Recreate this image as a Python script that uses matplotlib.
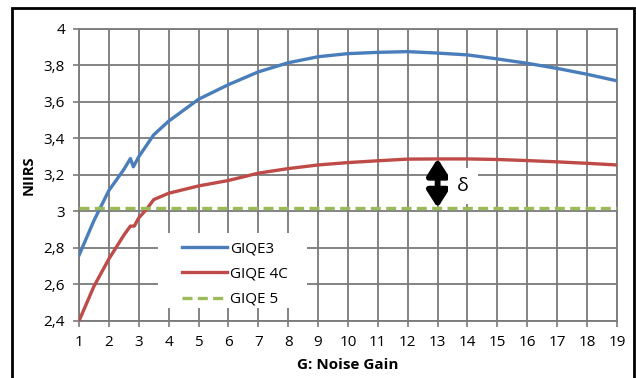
import matplotlib
matplotlib.use("Agg")
import matplotlib.pyplot as plt
from matplotlib.patches import Rectangle
from matplotlib.ticker import FuncFormatter, MultipleLocator

plt.rcParams['font.family'] = ['Open Sans', 'DejaVu Sans']

# GIQE3 curve (has a small kink near G=2.8)
g3_x = [1, 1.5, 2, 2.5, 2.72, 2.82, 3, 3.5, 4, 5, 6, 7, 8, 9, 10, 11, 12, 13, 14, 15, 16, 17, 18, 19]
g3_y = [2.76, 2.95, 3.115, 3.23, 3.29, 3.245, 3.30, 3.42, 3.495, 3.615, 3.695, 3.765, 3.815, 3.848, 3.865,
        3.872, 3.876, 3.868, 3.858, 3.836, 3.812, 3.784, 3.752, 3.716]

# GIQE 4C curve
g4_x = [1, 1.5, 2, 2.5, 2.72, 2.85, 3, 3.25, 3.5, 4, 5, 6, 7, 8, 9, 10, 11, 12, 13, 14, 15, 16, 17, 18, 19]
g4_y = [2.40, 2.59, 2.74, 2.87, 2.92, 2.92, 2.965, 3.01, 3.065, 3.10, 3.14, 3.17, 3.21, 3.235, 3.255,
        3.268, 3.278, 3.287, 3.288, 3.288, 3.285, 3.279, 3.272, 3.264, 3.255]

# GIQE 5 constant level
g5_x = [1, 19]
g5_y = [3.02, 3.02]

arrow_x = 13
delta_label = "δ"

fig = plt.figure(figsize=(6.36, 3.78), dpi=100)
ax = fig.add_axes([0.1242, 0.1508, 0.8458, 0.7725])

grid_col = "#7a7a7a"
ax.plot(g3_x, g3_y, color="#4a7ebb", lw=2.4, label="GIQE3", zorder=3)
ax.plot(g4_x, g4_y, color="#be4b48", lw=2.4, label="GIQE 4C", zorder=3)
ax.plot(g5_x, g5_y, color="#9bbb59", lw=2.4, ls=(0, (3, 1.6)), label="GIQE 5", zorder=3)

ax.set_xlim(1, 19)
ax.set_ylim(2.4, 4)
ax.xaxis.set_major_locator(MultipleLocator(1))
ax.yaxis.set_major_locator(MultipleLocator(0.2))
ax.yaxis.set_major_formatter(FuncFormatter(lambda v, p: ("%.1f" % v).rstrip("0").rstrip(".").replace(".", ",")))
ax.grid(True, color=grid_col, lw=1.3)
ax.set_axisbelow(True)
for s in ax.spines.values():
    s.set_color(grid_col)
    s.set_linewidth(1.3)
ax.tick_params(axis="both", direction="out", length=4, width=1.2, color=grid_col, labelsize=11, pad=6)

ax.set_ylabel("NIIRS", fontsize=10.5, fontweight="bold", labelpad=6)
ax.set_xlabel("G: Noise Gain", fontsize=11, fontweight="bold", labelpad=6)

# double arrow between GIQE 4C and GIQE 5 at G=13
ax.annotate("", xy=(arrow_x, 3.29), xytext=(arrow_x, 3.02),
            arrowprops=dict(arrowstyle="<|-|>,head_length=0.55,head_width=0.35", color="black", lw=4.2,
                            mutation_scale=18, shrinkA=0, shrinkB=0), zorder=4)
ax.text(13.85, 3.14, delta_label, fontsize=14, ha="center", va="center", zorder=4,
        bbox=dict(boxstyle="square,pad=0.45", fc="white", ec="none"))

# white patch behind the legend hides the grid
ax.add_patch(Rectangle((0.147, 0.0445), 0.277, 0.257, transform=ax.transAxes,
                       fc="white", ec="none", zorder=2.5))
leg = ax.legend(loc="upper left", bbox_to_anchor=(0.167, 0.315), fontsize=11, frameon=False,
                handlelength=2.95, handletextpad=0.25, labelspacing=0.66, borderpad=0.33)

# outer frame
fig.patches.append(Rectangle((12 / 636, -0.02), 622 / 636, 1 - 8 / 378 + 0.02, transform=fig.transFigure,
                             fill=False, ec="black", lw=2))

fig.savefig("out.png", dpi=100)
